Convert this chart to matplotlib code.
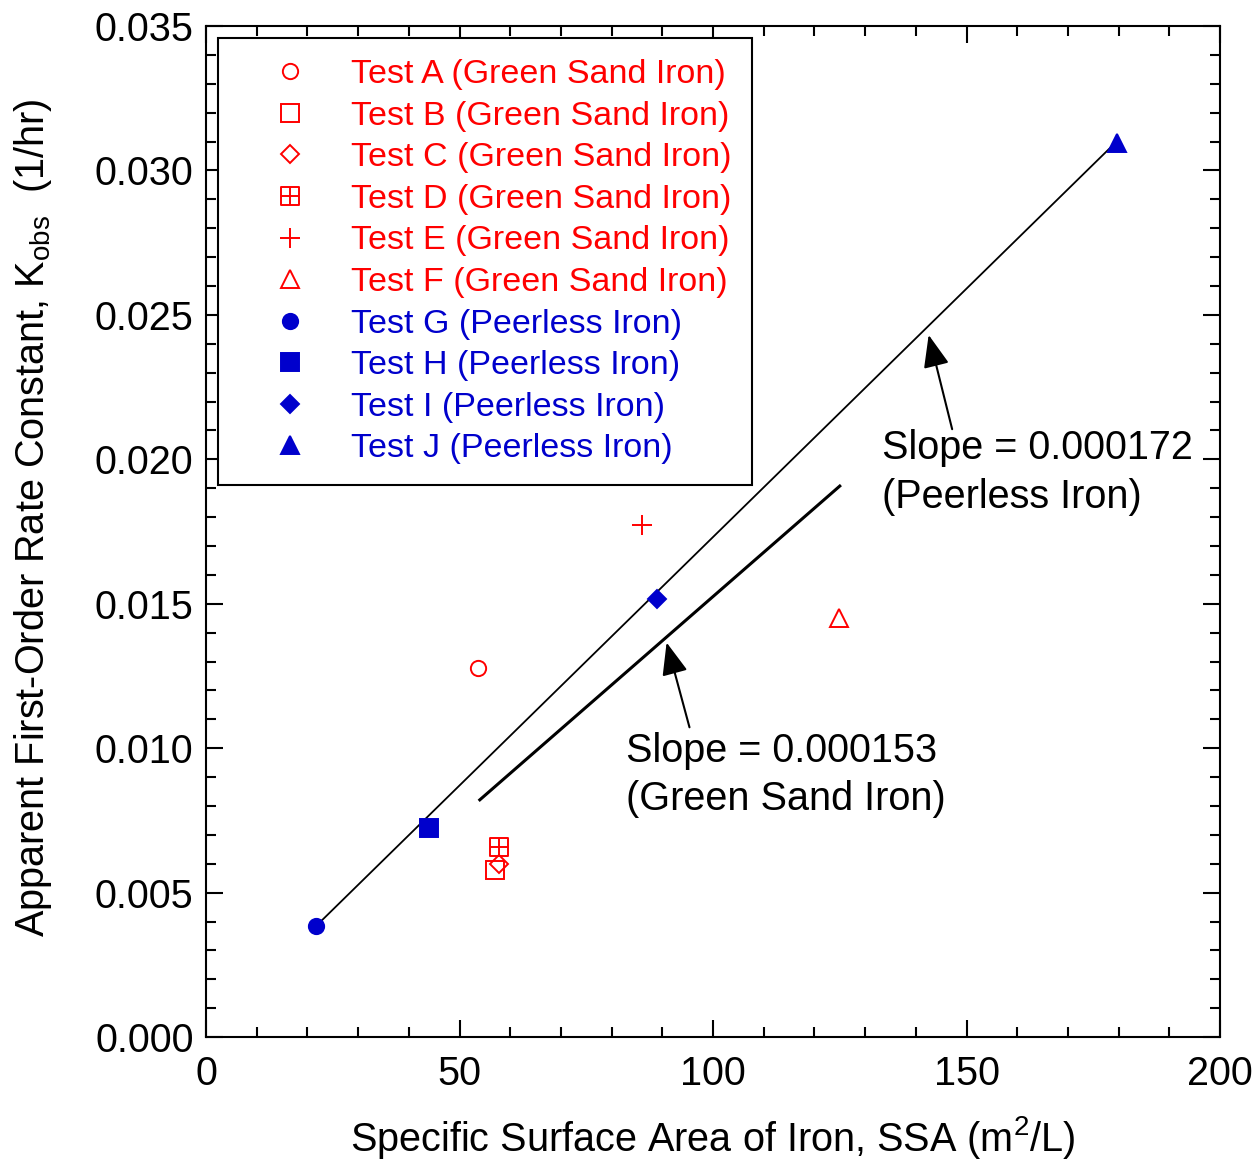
import numpy as np
import matplotlib
matplotlib.use("Agg")
import matplotlib.pyplot as plt
from matplotlib.path import Path
from matplotlib.ticker import MultipleLocator, FormatStrFormatter

plt.rcParams['font.family'] = ['Liberation Sans', 'DejaVu Sans']
plt.rcParams['mathtext.default'] = 'regular'

# Green sand iron tests (A-F)
green_labels = ["Test A (Green Sand Iron)", "Test B (Green Sand Iron)",
                "Test C (Green Sand Iron)", "Test D (Green Sand Iron)",
                "Test E (Green Sand Iron)", "Test F (Green Sand Iron)"]
green_ssa = [53.6, 57.0, 57.8, 57.8, 86.0, 124.9]
green_k = [0.01278, 0.00578, 0.00599, 0.00658, 0.01773, 0.01451]

# Peerless iron tests (G-J)
peer_labels = ["Test G (Peerless Iron)", "Test H (Peerless Iron)",
               "Test I (Peerless Iron)", "Test J (Peerless Iron)"]
peer_ssa = [21.7, 44.0, 88.95, 179.7]
peer_k = [0.00384, 0.00724, 0.01517, 0.03096]

# linear fits
peer_slope, peer_icpt = 0.000172, 0.00011
peer_fit_x = [21.7, 179.7]
green_slope, green_icpt = 0.000153, -0.00005
green_fit_x = [54.0, 125.0]

RED = '#FF0000'
BLUE = '#0000CC'

# square with a cross inside (Test D)
sq_plus = Path([(-1, -1), (1, -1), (1, 1), (-1, 1), (-1, -1),
                (0, -1), (0, 1), (-1, 0), (1, 0)],
               [Path.MOVETO, Path.LINETO, Path.LINETO, Path.LINETO, Path.CLOSEPOLY,
                Path.MOVETO, Path.LINETO, Path.MOVETO, Path.LINETO])

green_markers = ['o', 's', 'D', sq_plus, '+', '^']
green_sizes = [11, 13, 9, 13, 14, 13]
peer_markers = ['o', 's', 'D', '^']
peer_sizes = [11, 13, 9, 13]

fig = plt.figure(figsize=(12.54, 11.63), dpi=100)
ax = fig.add_axes([0.1643, 0.1083, 0.8086, 0.8693])

# fit lines
px = np.array(peer_fit_x)
ax.plot(px, peer_slope * px + peer_icpt, '-k', lw=1.3, zorder=2)
gx = np.array(green_fit_x)
ax.plot(gx, green_slope * gx + green_icpt, '-k', lw=2.2, zorder=2)

for i in range(len(green_ssa)):
    ax.plot([green_ssa[i]], [green_k[i]], linestyle='none', marker=green_markers[i],
            ms=green_sizes[i], mfc='none', mec=RED, mew=1.4, label=green_labels[i], zorder=3)
for i in range(len(peer_ssa)):
    ax.plot([peer_ssa[i]], [peer_k[i]], linestyle='none', marker=peer_markers[i],
            ms=peer_sizes[i], mfc=BLUE, mec=BLUE, mew=1.4, label=peer_labels[i], zorder=3)

ax.set_xlim(0, 200)
ax.set_ylim(0, 0.035)
ax.xaxis.set_major_locator(MultipleLocator(50))
ax.xaxis.set_minor_locator(MultipleLocator(10))
ax.yaxis.set_major_locator(MultipleLocator(0.005))
ax.yaxis.set_minor_locator(MultipleLocator(0.001))
ax.yaxis.set_major_formatter(FormatStrFormatter('%.3f'))
ax.tick_params(which='both', direction='in', top=True, right=True, width=1.5)
ax.tick_params(which='major', length=12, labelsize=28.5)
ax.tick_params(axis='x', which='major', pad=13)
ax.tick_params(axis='y', which='major', pad=9)
ax.tick_params(which='minor', length=7)
for s in ax.spines.values():
    s.set_linewidth(1.5)

ax.set_xlabel("Specific Surface Area of Iron, SSA (m$^2$/L)", fontsize=28.5, labelpad=15)
ax.set_ylabel("Apparent First-Order Rate Constant, K$_{obs}$  (1/hr)", fontsize=28.5)
ax.yaxis.set_label_coords(-0.150, 0.514)

ax.annotate("", xy=(142.4, 0.02440), xytext=(147.3, 0.02095),
            arrowprops=dict(arrowstyle='-|>,head_length=1.0,head_width=0.4',
                            color='k', lw=1.5, mutation_scale=20))
ax.text(133.3, 0.01832, "Slope = 0.000172\n(Peerless Iron)", fontsize=28.5,
        ha='left', va='baseline', linespacing=1.35)

ax.annotate("", xy=(90.7, 0.01375), xytext=(95.5, 0.01063),
            arrowprops=dict(arrowstyle='-|>,head_length=1.0,head_width=0.4',
                            color='k', lw=1.5, mutation_scale=20))
ax.text(82.8, 0.00786, "Slope = 0.000153\n(Green Sand Iron)", fontsize=28.5,
        ha='left', va='baseline', linespacing=1.35)

leg = ax.legend(loc='upper left', bbox_to_anchor=(0.0118, 0.988), borderaxespad=0,
                fontsize=24.5, numpoints=1, handlelength=3.0, handletextpad=0.28,
                borderpad=0.62, labelspacing=0.31, fancybox=False, framealpha=1,
                edgecolor='k')
leg.get_frame().set_linewidth(1.5)
for t in leg.get_texts()[:6]:
    t.set_color(RED)
for t in leg.get_texts()[6:]:
    t.set_color(BLUE)

fig.savefig("out.png", dpi=100)
